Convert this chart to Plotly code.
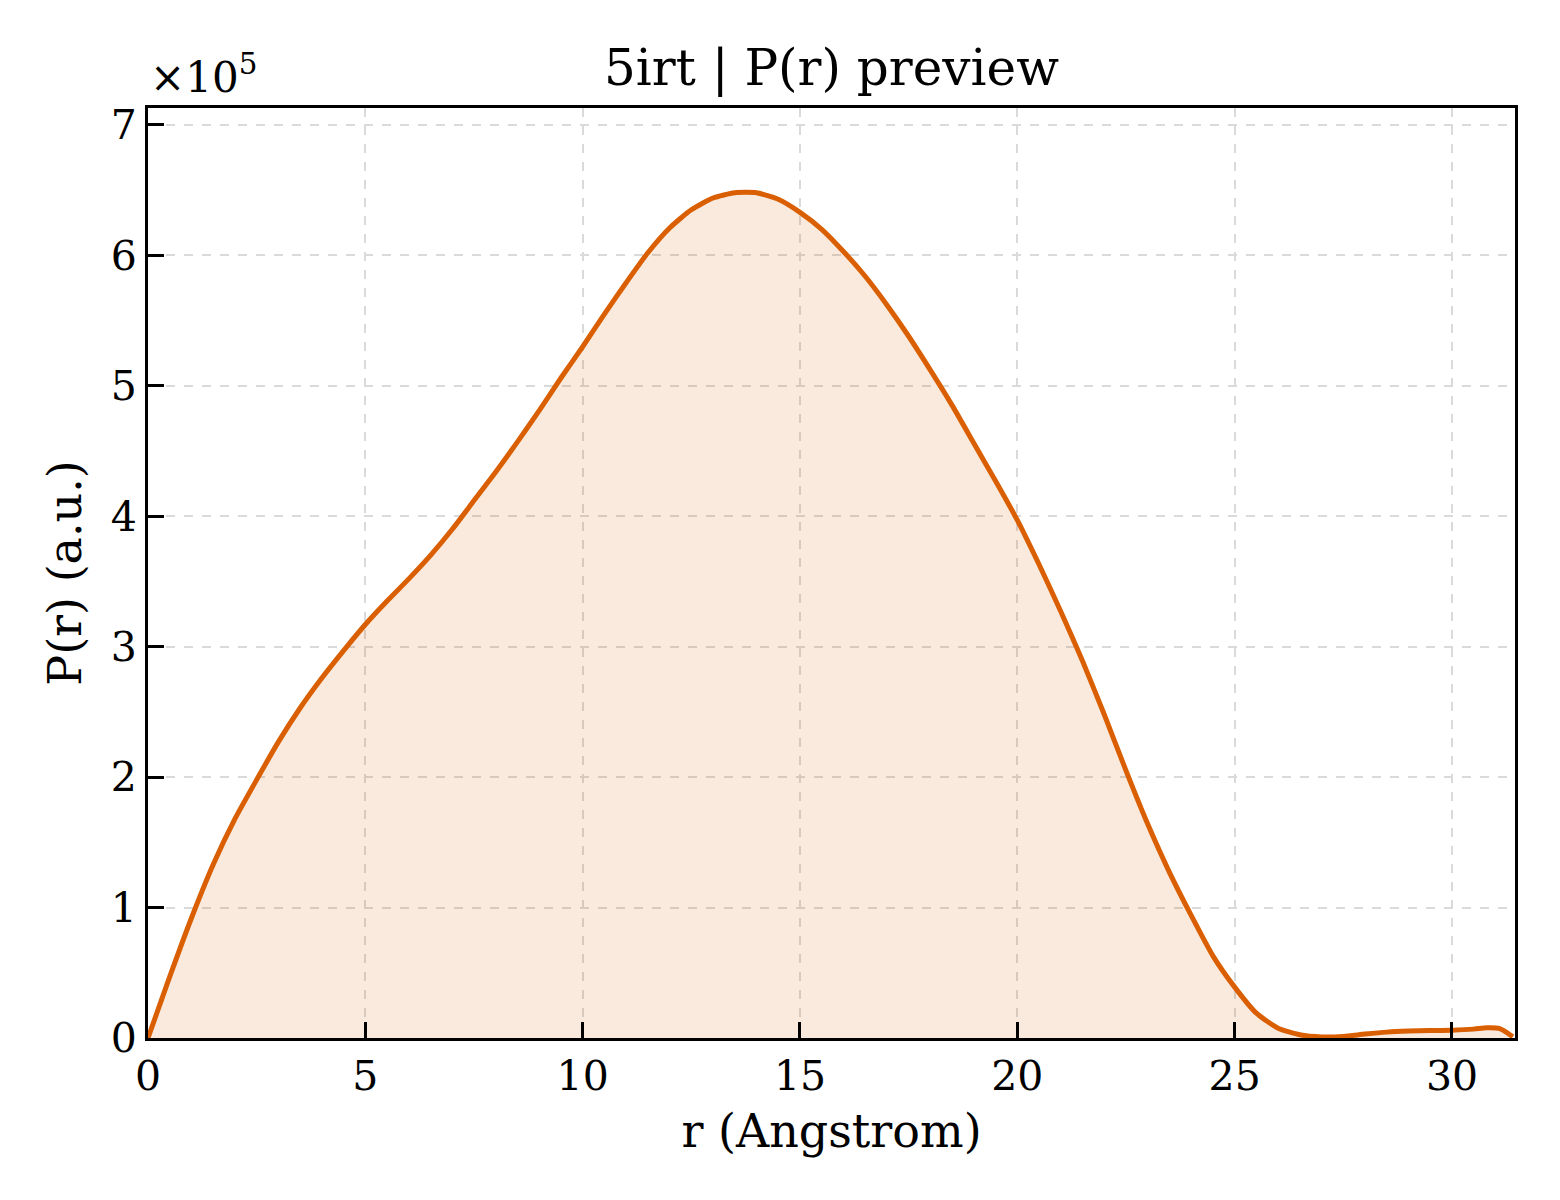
import plotly.graph_objects as go

# P(r) values (r in Angstrom, P(r) in a.u.)
r_vals = [0.0, 0.5, 1.0, 1.5, 2.0, 2.5, 3.0, 3.5, 4.0, 4.5,
          5.0, 5.5, 6.0, 6.5, 7.0, 7.5, 8.0, 8.5, 9.0, 9.5,
          10.0, 10.5, 11.0, 11.5, 12.0, 12.5, 13.0, 13.5, 14.0, 14.5,
          15.0, 15.5, 16.0, 16.5, 17.0, 17.5, 18.0, 18.5, 19.0, 19.5,
          20.0, 20.5, 21.0, 21.5, 22.0, 22.5, 23.0, 23.5, 24.0, 24.5,
          25.0, 25.5, 26.0, 26.5, 27.0, 27.5, 28.0, 28.5, 29.0, 29.5,
          30.0, 30.5, 30.8, 31.1, 31.4]
p_vals = [0, 47000, 92000, 133000, 168000, 198000, 227000, 253000, 276000, 297000,
          317000, 335000, 352000, 370000, 390000, 412000, 434000, 457000, 481000, 506000,
          530000, 555000, 579000, 602000, 621000, 635000, 644000, 648000, 648000, 643000,
          633000, 620000, 603000, 584000, 562000, 538000, 512000, 485000, 456000, 427000,
          397000, 363000, 327000, 289000, 248000, 205000, 164000, 127000, 94000, 63000,
          39000, 19000, 7500, 2500, 800, 1200, 3000, 4500, 5300, 5700,
          6000, 6800, 7800, 7200, 1000]

y_ticks = [0, 100000, 200000, 300000, 400000, 500000, 600000, 700000]
y_tick_labels = ["0", "1", "2", "3", "4", "5", "6", "7"]
x_ticks = [0, 5, 10, 15, 20, 25, 30]

serif = "DejaVu Serif"

fig = go.Figure()

fig.add_trace(go.Scatter(
    x=r_vals,
    y=p_vals,
    mode='lines',
    line=dict(color='#D95F02', width=5, shape='spline', smoothing=0.6),
    fill='tozeroy',
    fillcolor='rgba(217,95,2,0.13)',
    showlegend=False
))

axis_common = dict(
    showline=True,
    linecolor='black',
    linewidth=3,
    mirror=True,
    ticks='inside',
    ticklen=16,
    tickwidth=3,
    tickcolor='black',
    showgrid=True,
    gridcolor='#dadada',
    gridwidth=1.5,
    griddash='dash',
    zeroline=False,
    tickfont=dict(family=serif, size=41, color='black'),
)

# the page has an 8px body margin, so the figure is a bit smaller than the window
fig.update_layout(
    width=1552,
    height=1192,
    margin=dict(l=140, r=45, t=100, b=162),
    paper_bgcolor='white',
    plot_bgcolor='white',
    font=dict(family=serif, color='black'),
    title=dict(
        text="5irt | P(r) preview",
        xref='paper', x=0.5, xanchor='center',
        y=0.95, yanchor='middle',
        font=dict(family=serif, size=50, color='black')
    ),
    xaxis=dict(
        axis_common,
        range=[0, 31.45],
        tickvals=x_ticks,
        title=dict(text="r (Angstrom)", font=dict(family=serif, size=46), standoff=16),
    ),
    yaxis=dict(
        axis_common,
        range=[0, 713000],
        tickvals=y_ticks,
        ticktext=y_tick_labels,
        title=dict(text="P(r) (a.u.)", font=dict(family=serif, size=46), standoff=15),
    ),
    annotations=[dict(
        text="×10<sup>5</sup>",
        xref='paper', yref='paper',
        x=0, y=1,
        xanchor='left', yanchor='bottom',
        xshift=0, yshift=4,
        showarrow=False,
        font=dict(family=serif, size=42, color='black')
    )]
)

fig.write_html("out.html")
